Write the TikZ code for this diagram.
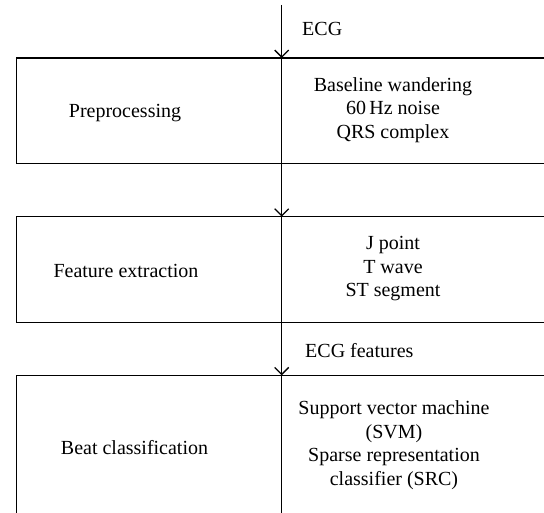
\documentclass[tikz,border=0pt]{standalone}
\usepackage{fontspec}
\setmainfont{Liberation Serif}
\usetikzlibrary{arrows.meta}
\begin{document}
\begin{tikzpicture}[x=1pt,y=-1pt,
  box/.style={draw, line width=1.6pt},
  divider/.style={line width=1.5pt},
  conn/.style={line width=1.5pt, -{Straight Barb[length=7pt,width=14pt,line width=1.3pt]}},
  lbl/.style={font=\fontsize{20}{23.5}\selectfont, align=center, inner sep=0pt},
]
\useasboundingbox (0,0) rectangle (544,513);
\begin{scope}
\clip (0,0) rectangle (544,513);
% boxes
\draw[box] (16.3,58) rectangle (600,163.5);
\draw[box] (16.3,216.7) rectangle (600,322.7);
\draw[box] (16.3,375.3) rectangle (600,560);
% dividers
\coordinate (top) at (281.7,5);
\coordinate (b1t) at (281.7,58);
\coordinate (b1b) at (281.7,163.5);
\coordinate (b2t) at (281.7,216.7);
\coordinate (b2b) at (281.7,322.7);
\coordinate (b3t) at (281.7,375.3);
\coordinate (b3b) at (281.7,560);
\draw[divider] (b1t) -- (b1b);
\draw[divider] (b2t) -- (b2b);
\draw[divider] (b3t) -- (b3b);
\draw[conn] (top) -- (b1t);
\draw[conn] (b1b) -- (b2t);
\draw[conn] (b2b) -- (b3t);
\end{scope}
% labels
\node[lbl, anchor=west] (ecg) at (302,29) {ECG};
\node[lbl, anchor=west] (ecgf) at (305,351) {ECG features};
\node[lbl] (pre) at (125,113) {Preprocessing};
\node[lbl] (fe) at (126,271) {Feature extraction};
\node[lbl] (bc) at (134.5,448) {Beat classification};
\node[lbl] (n1) at (393,110) {Baseline wandering\\60\,Hz noise\\QRS complex};
\node[lbl] (n2) at (393,269) {J point\\T wave\\ST segment};
\node[lbl] (n3) at (394,445) {Support vector machine\\(SVM)\\Sparse representation\\classifier (SRC)};
\end{tikzpicture}
\end{document}
